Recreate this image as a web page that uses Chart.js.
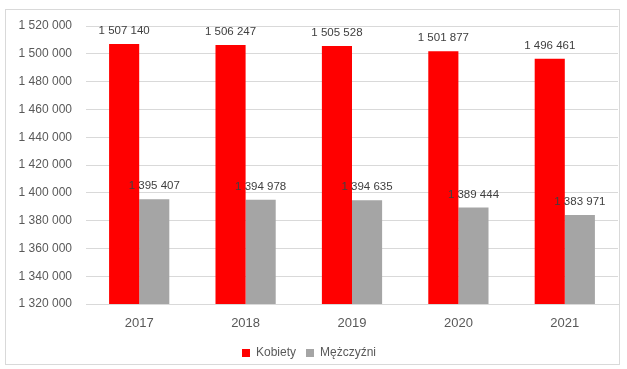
<!DOCTYPE html>
<html>
<head>
<meta charset="utf-8">
<script src="https://cdn.jsdelivr.net/npm/chart.js@4/dist/chart.umd.min.js"></script>
<style>
  html, body { margin: 0; padding: 0; background: #fff; }
  #wrap { position: relative; width: 627px; height: 369px; }
</style>
</head>
<body>
<div id="wrap"><canvas id="chart" width="627" height="369"></canvas></div>
<script>
// dane z wykresu
var years = ['2017', '2018', '2019', '2020', '2021'];
var kobiety = [1507140, 1506247, 1505528, 1501877, 1496461];
var mezczyzni = [1395407, 1394978, 1394635, 1389444, 1383971];
var seriesNames = ['Kobiety', 'Mężczyźni'];
var yMin = 1320000, yMax = 1520000, yStep = 20000;

var FONT = '"Liberation Sans", Arial, sans-serif';

function fmt(v) {
    return String(v).replace(/\B(?=(\d{3})+(?!\d))/g, ' ');
}

// ramka wokół wykresu
var frame = {
    id: 'frame',
    beforeDraw: function (chart) {
        var c = chart.ctx;
        c.save();
        c.strokeStyle = '#d9d9d9';
        c.lineWidth = 1;
        c.strokeRect(5.5, 9.5, 614, 355);
        c.restore();
    }
};

// etykiety wartości nad słupkami
var valueLabels = {
    id: 'valueLabels',
    afterDatasetsDraw: function (chart) {
        var c = chart.ctx;
        c.save();
        c.font = '11.5px ' + FONT;
        c.fillStyle = '#404040';
        c.textAlign = 'center';
        c.textBaseline = 'middle';
        chart.data.datasets.forEach(function (ds, i) {
            chart.getDatasetMeta(i).data.forEach(function (bar, j) {
                c.fillText(fmt(ds.data[j]), bar.x, bar.y - 13);
            });
        });
        c.restore();
    }
};

var ctx = document.getElementById('chart').getContext('2d');
new Chart(ctx, {
    type: 'bar',
    data: {
        labels: years,
        datasets: [{
            label: seriesNames[0],
            data: kobiety,
            backgroundColor: '#ff0000'
        }, {
            label: seriesNames[1],
            data: mezczyzni,
            backgroundColor: '#a5a5a5'
        }]
    },
    options: {
        responsive: false,
        animation: false,
        layout: { padding: { top: 26, right: 9, left: 0, bottom: 0 } },
        datasets: {
            bar: { categoryPercentage: 0.566, barPercentage: 1.0 }
        },
        scales: {
            x: {
                grid: { display: false, drawTicks: false },
                border: { color: '#d9d9d9' },
                ticks: {
                    color: '#595959',
                    padding: 12,
                    font: { family: FONT, size: 13 }
                },
                afterFit: function (scale) { scale.height = 33; }
            },
            y: {
                min: yMin,
                max: yMax,
                grid: { color: '#d9d9d9', drawTicks: false },
                border: { display: false },
                ticks: {
                    stepSize: yStep,
                    color: '#595959',
                    padding: 14,
                    font: { family: FONT, size: 12 },
                    callback: function (v) { return fmt(v); }
                },
                afterFit: function (scale) { scale.width = 86; }
            }
        },
        plugins: {
            legend: {
                display: true,
                position: 'bottom',
                labels: {
                    boxWidth: 8,
                    boxHeight: 8,
                    color: '#595959',
                    padding: 10,
                    font: { family: FONT, size: 12 }
                }
            },
            title: { display: false },
            tooltip: { enabled: false }
        }
    },
    plugins: [frame, valueLabels]
});
</script>
</body>
</html>
